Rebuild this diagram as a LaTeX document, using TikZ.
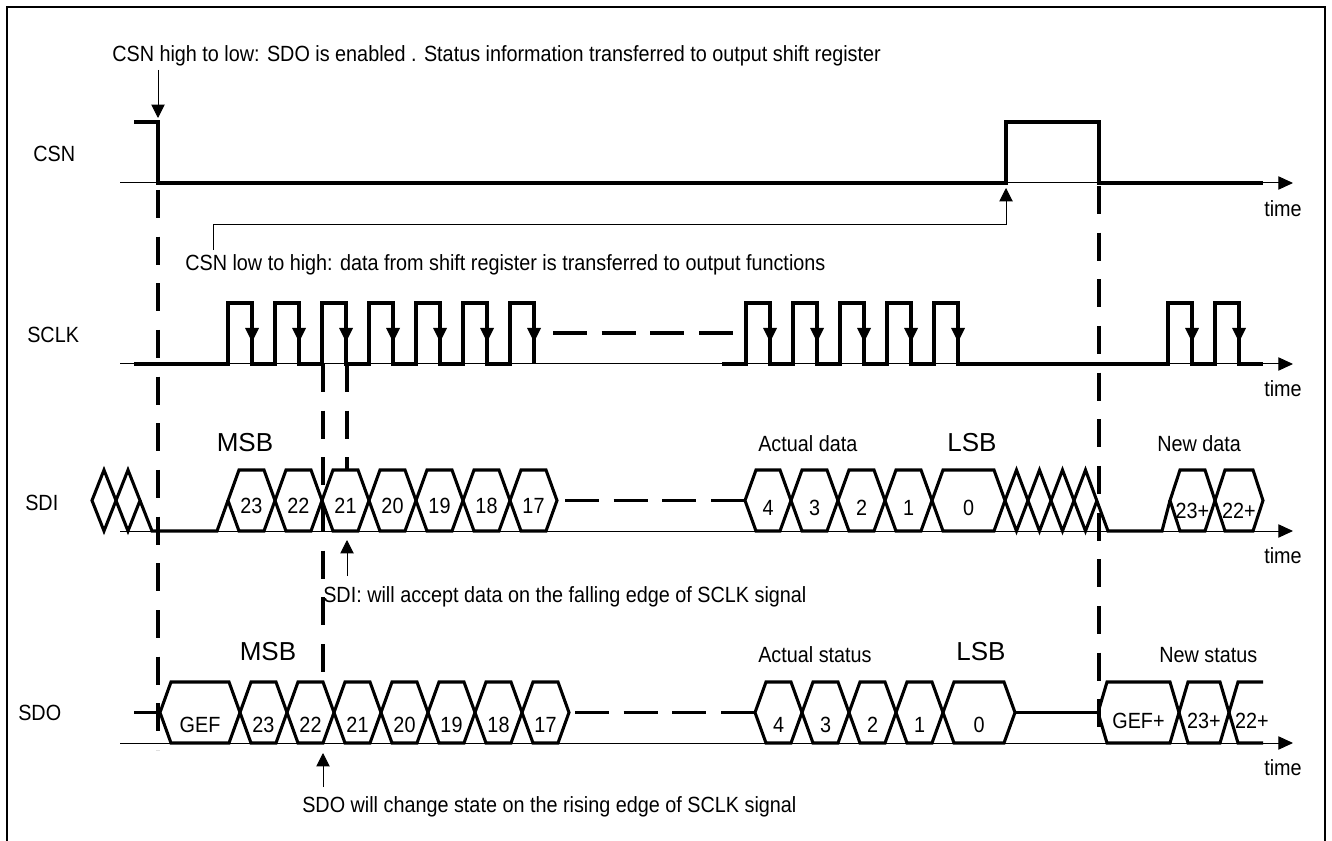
\documentclass[tikz,border=0pt]{standalone}
\usepackage{fontspec}
\setmainfont{Liberation Sans}[FakeStretch=0.9]
\newfontfamily\widefont{Liberation Sans}
\usetikzlibrary{arrows.meta}
\newcount\hexn
\newcommand\hexlab[7]{% a b T B h label baseline
  \draw[sig] (#1,{(#3+#4)/2}) -- ({#1+#5},#3) -- ({#2-#5},#3) -- (#2,{(#3+#4)/2}) -- ({#2-#5},#4) -- ({#1+#5},#4) -- cycle;
  \global\advance\hexn by 1
  \node[lab] (hex\the\hexn) at ({(#1+#2)/2},#7) {#6};}
\newcommand\farrow[1]{\fill (#1,342) -- ({#1-7},328) -- ({#1+7},328) -- cycle;}
\begin{document}
\begin{tikzpicture}[x=0.75pt,y=-0.75pt,
  sig/.style={line width=2.3pt},
  axisline/.style={line width=0.75pt,-{Triangle[length=11pt,width=10pt]}},
  note/.style={line width=0.75pt,-{Triangle[length=10pt,width=10pt]}},
  vdash/.style={line width=2.3pt,dash pattern=on 21pt off 14pt},
  hdash/.style={line width=2.3pt,dash pattern=on 25.5pt off 11pt},
  txt/.style={font=\fontsize{16.5pt}{19pt}\selectfont,inner sep=0pt,anchor=base west},
  lab/.style={font=\fontsize{16.5pt}{19pt}\selectfont,inner sep=0pt,anchor=base},
  big/.style={font=\widefont\fontsize{19.5pt}{22pt}\selectfont,inner sep=0pt,anchor=base}]
\useasboundingbox (0,0) rectangle (1332,841);
% frame
\draw[line width=1.2pt] (7,841) -- (7,7) -- (1325,7) -- (1325,841);

% ---------- axes ----------
\draw[axisline] (120,183) -- (1293,183);
\draw[axisline] (120,364) -- (1293,364);
\draw[axisline] (120,531) -- (1293,531);
\draw[axisline] (120,743) -- (1293,743);
\node[txt] (t1) at (1264,217) {time};
\node[txt] (t2) at (1264,397) {time};
\node[txt] (t3) at (1264,563) {time};
\node[txt] (t4) at (1264,775) {time};

% ---------- signal names ----------
\node[txt] (lcsn) at (33,162) {CSN};
\node[txt] (lsclk) at (27,343) {SCLK};
\node[txt] (lsdi) at (25,510) {SDI};
\node[txt] (lsdo) at (18,720) {SDO};

% ---------- vertical dashed markers ----------
\draw[vdash] (158,190) -- (158,750);
\draw[vdash] (1099,186) -- (1099,745);
\draw[vdash] (323,364) -- (323,682);
\draw[vdash] (347,364) -- (347,470);

% ---------- CSN ----------
\draw[sig] (134,122) -- (158,122) -- (158,183) -- (1006,183) -- (1006,122) -- (1099,122) -- (1099,183) -- (1263,183);

% ---------- SCLK ----------
\draw[sig] (134,364) foreach \k in {0,...,6} { -- ({228+47*\k},364) -- ({228+47*\k},303) -- ({252+47*\k},303) -- ({252+47*\k},364) };
\foreach \k in {0,...,6} {\farrow{252+47*\k}}
\draw[hdash] (553,333) -- (737,333);
\draw[sig] (722,364) foreach \k in {0,...,4} { -- ({746+47*\k},364) -- ({746+47*\k},303) -- ({770+47*\k},303) -- ({770+47*\k},364) }
  -- (1168,364) -- (1168,303) -- (1192,303) -- (1192,364) -- (1215,364) -- (1215,303) -- (1239,303) -- (1239,364) -- (1263,364);
\foreach \k in {0,...,4} {\farrow{770+47*\k}}
\farrow{1192}\farrow{1239}

% ---------- SDI ----------
\draw[sig] (92,500.5) -- (104,470) -- (116,500.5) -- (104,531) -- cycle;
\draw[sig] (116,500.5) -- (128,470) -- (140,500.5) -- (128,531) -- cycle;
\draw[sig] (140,500.5) -- (152,531) -- (217,531) -- (228,500.5);
\hexlab{228}{275}{470}{531}{11}{23}{513}
\hexlab{275}{322}{470}{531}{11}{22}{513}
\hexlab{322}{369}{470}{531}{11}{21}{513}
\hexlab{369}{416}{470}{531}{11}{20}{513}
\hexlab{416}{463}{470}{531}{11}{19}{513}
\hexlab{463}{510}{470}{531}{11}{18}{513}
\hexlab{510}{557}{470}{531}{11}{17}{513}
\draw[hdash] (565,500.5) -- (745,500.5);
\hexlab{745}{791}{470}{531}{11}{4}{515}
\hexlab{791}{838}{470}{531}{11}{3}{515}
\hexlab{838}{885}{470}{531}{11}{2}{515}
\hexlab{885}{932}{470}{531}{11}{1}{515}
\hexlab{932}{1005}{470}{531}{11}{0}{515}
\draw[sig] (1005,500.5) -- (1016.5,470) -- (1039.5,531) -- (1062.5,470) -- (1085.5,531) -- (1097,500.5);
\draw[sig] (1005,500.5) -- (1016.5,531) -- (1039.5,470) -- (1062.5,531) -- (1085.5,470) -- (1108,531) -- (1162,531) -- (1170,500.5);
\hexlab{1170}{1215}{470}{531}{10}{23+}{518}
\hexlab{1215}{1263}{470}{531}{10}{22+}{518}
\node[big] (msb1) at (245,452) {MSB};
\node[txt] (ad) at (758,452) {Actual data};
\node[big] (lsb1) at (972,452) {LSB};
\node[txt] (nd) at (1157,452) {New data};

% ---------- SDO ----------
\draw[sig] (134,712.5) -- (160,712.5);
\hexlab{160}{240}{682}{743}{11}{GEF}{732}
\hexlab{240}{287}{682}{743}{11}{23}{732}
\hexlab{287}{334}{682}{743}{11}{22}{732}
\hexlab{334}{381}{682}{743}{11}{21}{732}
\hexlab{381}{428}{682}{743}{11}{20}{732}
\hexlab{428}{475}{682}{743}{11}{19}{732}
\hexlab{475}{522}{682}{743}{11}{18}{732}
\hexlab{522}{569}{682}{743}{11}{17}{732}
\draw[hdash] (575,712.5) -- (756,712.5);
\hexlab{755}{802}{682}{743}{11}{4}{732}
\hexlab{802}{849}{682}{743}{11}{3}{732}
\hexlab{849}{896}{682}{743}{11}{2}{732}
\hexlab{896}{943}{682}{743}{11}{1}{732}
\hexlab{943}{1015}{682}{743}{11}{0}{732}
\draw[sig] (1015,712.5) -- (1098,712.5);
\hexlab{1098}{1179}{682}{743}{9}{GEF+}{728}
\hexlab{1179}{1229}{682}{743}{9}{23+}{728}
\draw[sig] (1263,682) -- (1238,682) -- (1229,712.5) -- (1238,743) -- (1263,743);
\node[lab] (n22p) at (1252,728) {22+};
\node[big] (msb2) at (268,660) {MSB};
\node[txt] (as) at (758,662) {Actual status};
\node[big] (lsb2) at (981,660) {LSB};
\node[txt] (ns) at (1159,662) {New status};

% ---------- annotations ----------
\node[txt] (a1) at (112,62) {CSN high to low: SDO is enabled . Status information transferred to output shift register};
\coordinate (p1) at (158,118);
\draw[note] (158,70) -- (p1);

\node[txt] (a2) at (185,271) {CSN low to high: data from shift register is transferred to output functions};
\coordinate (p2) at (1006,188);
\coordinate (k2) at (213,225);
\draw[note] (213,250) -- (k2) -| (p2);

\node[txt] (a3) at (323,602) {SDI: will accept data on the falling edge of SCLK signal};
\coordinate (p3) at (347,540);
\draw[note] (347,576) -- (p3);

\node[txt] (a4) at (302,812) {SDO will change state on the rising edge of SCLK signal};
\coordinate (p4) at (323,753);
\draw[note] (323,787) -- (p4);
\end{tikzpicture}
\end{document}
